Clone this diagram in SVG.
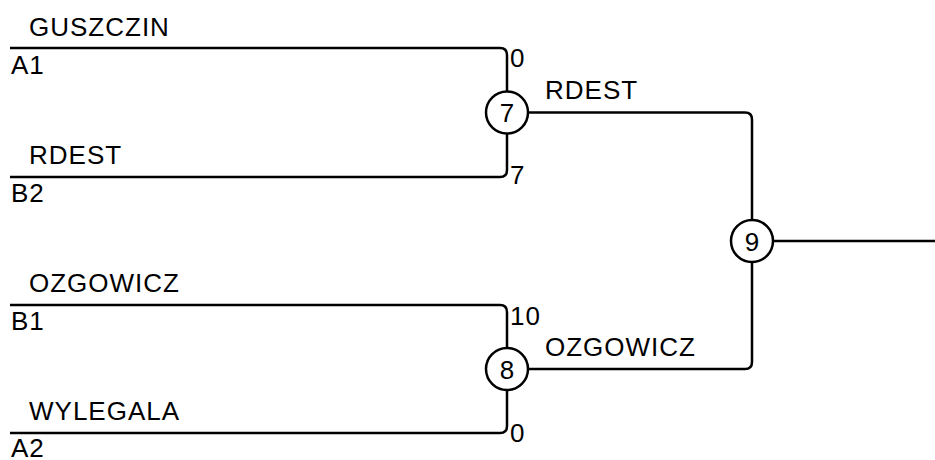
<svg xmlns="http://www.w3.org/2000/svg" width="935" height="460" viewBox="0 0 935 460">
<style>
.ln{fill:none;stroke:#000;stroke-width:2.5}
.nd{fill:#fff;stroke:#000;stroke-width:2.5}
text{font-family:"Liberation Sans",Arial,sans-serif;font-size:26px;fill:#000;letter-spacing:1px}
.num{font-size:26px;text-anchor:middle;letter-spacing:0}
</style>
<rect width="935" height="460" fill="#fff"/>
<g id="connectors">
<path class="ln" d="M10,48 H500 Q507,48 507,55 V92"/>
<path class="ln" d="M10,177 H500 Q507,177 507,170 V133"/>
<path class="ln" d="M10,305 H500 Q507,305 507,312 V348"/>
<path class="ln" d="M10,433 H500 Q507,433 507,426 V390"/>
<path class="ln" d="M528,112.5 H745 Q752,112.5 752,119.5 V220"/>
<path class="ln" d="M528,369 H745 Q752,369 752,362 V262"/>
<path class="ln" d="M773,241 H935"/>
</g>
<g id="labels">
<text x="29" y="36">GUSZCZIN</text>
<text x="11" y="74">A1</text>
<text x="29" y="164">RDEST</text>
<text x="11" y="202">B2</text>
<text x="29" y="292">OZGOWICZ</text>
<text x="11" y="330">B1</text>
<text x="29" y="420">WYLEGALA</text>
<text x="11" y="457">A2</text>
<text x="510" y="67">0</text>
<text x="510" y="184">7</text>
<text x="510" y="325">10</text>
<text x="510" y="442">0</text>
<text x="545" y="99">RDEST</text>
<text x="545" y="356">OZGOWICZ</text>
</g>
<g id="node7">
<circle class="nd" cx="507" cy="112.5" r="21"/>
<text class="num" x="507" y="122">7</text>
</g>
<g id="node8">
<circle class="nd" cx="507" cy="369" r="21"/>
<text class="num" x="507" y="378.5">8</text>
</g>
<g id="node9">
<circle class="nd" cx="752" cy="241" r="21"/>
<text class="num" x="752" y="250.5">9</text>
</g>
</svg>
